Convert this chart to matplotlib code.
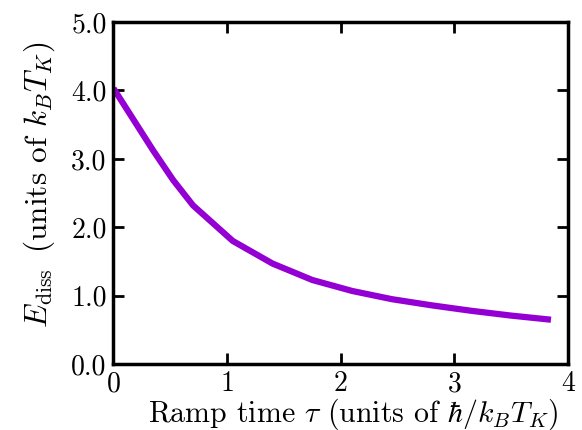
import matplotlib
matplotlib.use('Agg')
from matplotlib import pyplot as plt

# ramp time tau (units of hbar/k_B T_K) and dissipated energy (units of k_B T_K)
ramp_time = [0.0, 0.35, 0.525, 0.7, 1.05, 1.4, 1.75, 2.1, 2.45, 2.8, 3.15, 3.5, 3.85]
e_diss = [4.03, 3.12, 2.69, 2.32, 1.80, 1.47, 1.23, 1.07, 0.95, 0.86, 0.78, 0.71, 0.65]

x_ticks = [0, 1, 2, 3, 4]
y_ticks = [0.0, 1.0, 2.0, 3.0, 4.0, 5.0]

plt.rcParams['font.family'] = 'serif'
plt.rcParams['font.serif'] = ['cmr10']
plt.rcParams['mathtext.fontset'] = 'cm'
plt.rcParams['axes.formatter.use_mathtext'] = True

fig = plt.figure(figsize=(5.82, 4.30), dpi=100, facecolor="white")
ax = fig.add_axes([0.195, 0.153, 0.781, 0.796])

ax.plot(ramp_time, e_diss, color='#9400D3', linewidth=4.5, solid_capstyle='butt')

ax.set_xlim(0, 4)
ax.set_ylim(0, 5)
ax.set_xticks(x_ticks)
ax.set_xticklabels([str(t) for t in x_ticks])
ax.set_yticks(y_ticks)
ax.set_yticklabels(['%.1f' % t for t in y_ticks])

for s in ax.spines.values():
    s.set_linewidth(2.5)
ax.tick_params(direction='in', length=8, width=2, labelsize=20,
               top=True, right=True, pad=5)

ax.set_xlabel(r'Ramp time $\tau$ (units of $\hbar/k_BT_K$)', fontsize=21.5)
ax.set_ylabel(r'$E_{\rm diss}$ $\,$(units of $k_BT_K$)', fontsize=22.5)
ax.xaxis.set_label_coords(0.527, -0.095)
ax.yaxis.set_label_coords(-0.125, 0.525)

plt.savefig('out.png', dpi=100, facecolor=fig.get_facecolor())
